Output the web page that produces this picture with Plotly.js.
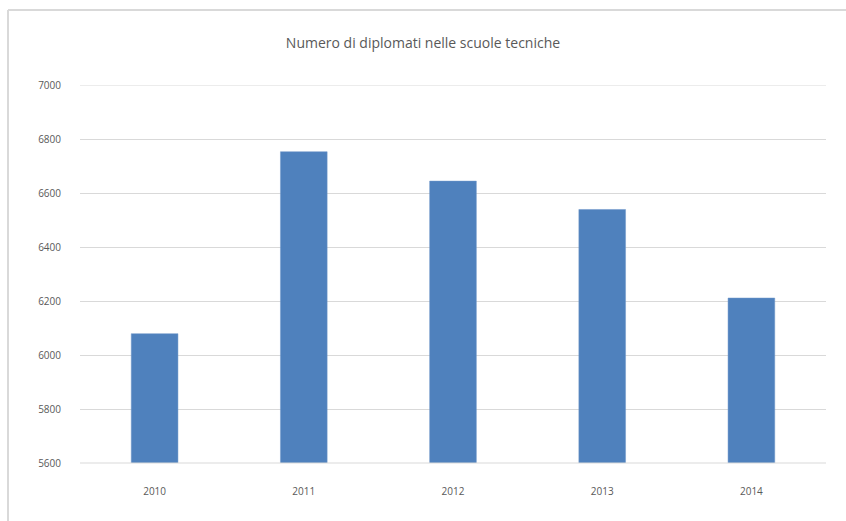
<!DOCTYPE html>
<html>
<head>
<meta charset="utf-8">
<script src="https://cdn.plot.ly/plotly-3.0.1.min.js"></script>
<style>html,body{margin:0;padding:0;background:#fff;}#chart{width:846px;height:521px;}</style>
</head>
<body>
<div id="chart"></div>
<script>
const years = ["2010", "2011", "2012", "2013", "2014"];
const diplomati = [6079, 6753, 6644, 6539, 6211];
const yTicks = [5600, 5800, 6000, 6200, 6400, 6600, 6800, 7000];
const chartTitle = "Numero di diplomati nelle scuole tecniche";

const W = 846, H = 521, L = 80, R = 20, T = 85, B = 58;
const pw = W - L - R, ph = H - T - B;
const px = v => (v - L) / pw;
const py = v => (H - B - v) / ph;

Plotly.newPlot("chart", [{
  type: "bar",
  x: years,
  y: diplomati,
  marker: {color: "#4f81bd", line: {color: "#6f96c8", width: 0.5}},
  hoverinfo: "x+y"
}], {
  width: W, height: H,
  margin: {l: L, r: R, t: T, b: B, pad: 0},
  paper_bgcolor: "#fff", plot_bgcolor: "#fff",
  font: {family: "Open Sans, sans-serif", color: "#595959", size: 10},
  title: {text: chartTitle, font: {size: 14, color: "#595959"}, x: 0.5, xanchor: "center", y: 1 - 43 / H, yanchor: "middle"},
  bargap: 0.687,
  showlegend: false,
  xaxis: {type: "category", showgrid: false, showline: false, ticks: "", tickfont: {size: 10}, ticklabelstandoff: 21},
  yaxis: {range: [5600, 7000], tickvals: yTicks, ticktext: yTicks.map(String), showgrid: true, gridcolor: "#d9d9d9", gridwidth: 1, zeroline: false, showline: false, ticks: "", ticklabelstandoff: 18, tickfont: {size: 10}},
  shapes: [
    {type: "line", xref: "paper", yref: "paper", x0: px(8), x1: px(846), y0: py(10), y1: py(10), line: {color: "#d9d9d9", width: 2}},
    {type: "line", xref: "paper", yref: "paper", x0: px(8), x1: px(8), y0: py(10), y1: py(521), line: {color: "#d9d9d9", width: 2}},
    {type: "line", xref: "paper", yref: "paper", x0: 0, x1: 1, y0: 0, y1: 0, line: {color: "#d9d9d9", width: 1}},
    {type: "line", xref: "paper", yref: "y", x0: 0, x1: 1, y0: yTicks[yTicks.length - 1], y1: yTicks[yTicks.length - 1], line: {color: "#d9d9d9", width: 1}}
  ]
}, {displayModeBar: false, staticPlot: true});
</script>
</body>
</html>
